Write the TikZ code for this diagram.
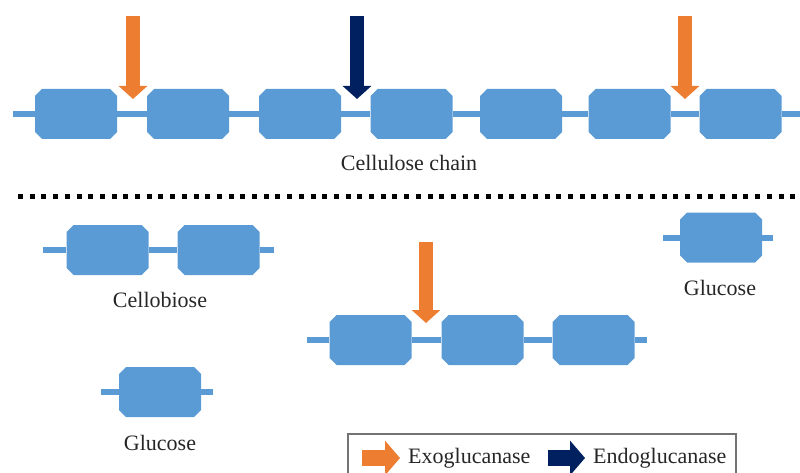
\documentclass[tikz,border=0pt]{standalone}
\usepackage{fontspec}
\setmainfont{Liberation Serif}
\usetikzlibrary{shapes.misc,arrows.meta}
\definecolor{glc}{RGB}{91,155,213}
\definecolor{exoc}{RGB}{237,125,49}
\definecolor{endoc}{RGB}{0,32,96}
\begin{document}
\begin{tikzpicture}
	[x=1pt,y=-1pt,
	unit/.style={chamfered rectangle,chamfered rectangle xsep=3.5pt,chamfered rectangle ysep=3.5pt,fill=glc,inner xsep=37.5pt,inner ysep=21.5pt,minimum size=0pt},
	bond/.style={draw=glc,line width=6pt},
	exo/.style={draw=exoc,line width=14pt,-{Triangle[width=28pt,length=13pt]}},
	endo/.style={draw=endoc,line width=14pt,-{Triangle[width=28pt,length=13pt]}},
	key/.style={line width=16pt,-{Triangle[width=34pt,length=15pt]}},
	lbl/.style={font=\rmfamily\fontsize{22}{26}\selectfont,text=black!85,inner sep=0pt}]
	\useasboundingbox (0,0) rectangle (800,473);
	
	\node[unit] (c1) at (76,114) {};
	\node[unit] (c2) at (188,114) {};
	\node[unit] (c3) at (300,114) {};
	\node[unit] (c4) at (411.5,114) {};
	\node[unit] (c5) at (521,114) {};
	\node[unit] (c6) at (629.5,114) {};
	\node[unit] (c7) at (740.5,114) {};
	\coordinate (c0) at (13,114);
	\coordinate (c8) at (800,114);
	\draw[bond] (c0) -- (c1.west);
	\draw[bond] (c1.east) -- (c2.west);
	\draw[bond] (c2.east) -- (c3.west);
	\draw[bond] (c3.east) -- (c4.west);
	\draw[bond] (c4.east) -- (c5.west);
	\draw[bond] (c5.east) -- (c6.west);
	\draw[bond] (c6.east) -- (c7.west);
	\draw[bond] (c7.east) -- (c8);
	\node[lbl] (chain) at (409,163) {Cellulose chain};
	
	\coordinate (x1s) at (133,16);
	\coordinate (x1e) at (133,99);
	\coordinate (n1s) at (357,16);
	\coordinate (n1e) at (357,99);
	\coordinate (x2s) at (685,16);
	\coordinate (x2e) at (685,99);
	\draw[exo] (x1s) -- (x1e);
	\draw[endo] (n1s) -- (n1e);
	\draw[exo] (x2s) -- (x2e);
	
	\coordinate (d0) at (18,197);
	\coordinate (d1) at (800,197);
	\draw[line width=5pt,dash pattern=on 5pt off 6.7pt] (d0) -- (d1);
	
	\node[unit] (b1) at (107.5,250) {};
	\node[unit] (b2) at (218.5,250) {};
	\coordinate (b0) at (43,250);
	\coordinate (b3) at (274,250);
	\draw[bond] (b0) -- (b1.west);
	\draw[bond] (b1.east) -- (b2.west);
	\draw[bond] (b2.east) -- (b3);
	\node[lbl] (cello) at (160,300) {Cellobiose};
	
	\node[unit] (g1) at (160,392) {};
	\coordinate (g1l) at (101,392);
	\coordinate (g1r) at (213,392);
	\draw[bond] (g1l) -- (g1.west);
	\draw[bond] (g1.east) -- (g1r);
	\node[lbl] (glc1) at (160,443) {Glucose};
	
	\node[unit] (g2) at (721,237.5) {};
	\coordinate (g2l) at (663,237.5);
	\coordinate (g2r) at (773,237.5);
	\draw[bond] (g2l) -- (g2.west);
	\draw[bond] (g2.east) -- (g2r);
	\node[lbl] (glc2) at (720,288) {Glucose};
	
	\node[unit] (m1) at (370.5,340) {};
	\node[unit] (m2) at (482.5,340) {};
	\node[unit] (m3) at (593.5,340) {};
	\coordinate (m0) at (307,340);
	\coordinate (m4) at (647,340);
	\draw[bond] (m0) -- (m1.west);
	\draw[bond] (m1.east) -- (m2.west);
	\draw[bond] (m2.east) -- (m3.west);
	\draw[bond] (m3.east) -- (m4);
	\coordinate (x3s) at (426,242);
	\coordinate (x3e) at (426,323);
	\draw[exo] (x3s) -- (x3e);
	
	\draw[draw=black!55,line width=1.2pt] (348,434) rectangle (736,495);
	\coordinate (k1s) at (362,458);
	\coordinate (k1e) at (400,458);
	\coordinate (k2s) at (548,458);
	\coordinate (k2e) at (585,458);
	\draw[key,draw=exoc] (k1s) -- (k1e);
	\draw[key,draw=endoc] (k2s) -- (k2e);
	\node[lbl,anchor=west] (exotxt) at (408,458) {Exoglucanase};
	\node[lbl,anchor=west] (endotxt) at (593,458) {Endoglucanase};
\end{tikzpicture}
\end{document}
